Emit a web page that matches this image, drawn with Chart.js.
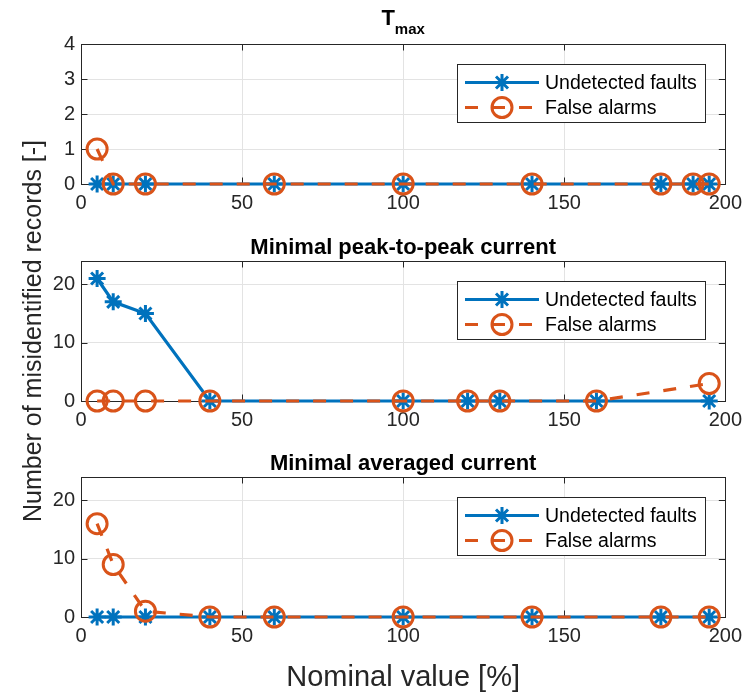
<!DOCTYPE html>
<html>
<head>
<meta charset="utf-8">
<script src="https://cdn.jsdelivr.net/npm/chart.js@4.4.1/dist/chart.umd.min.js"></script>
<style>
  html, body { margin: 0; padding: 0; background: #fff; }
  #wrap { position: relative; width: 749px; height: 698px; }
  #wrap canvas { position: absolute; left: 0; top: 0; }
</style>
</head>
<body>
<div id="wrap">
  <canvas id="tmax" width="749" height="698"></canvas>
  <canvas id="p2p" width="749" height="698"></canvas>
  <canvas id="avg" width="749" height="698"></canvas>
</div>
<script>
// T_max panel
const tmaxX = [5, 10, 20, 60, 100, 140, 180, 190, 195];
const tmaxUndetected = [0, 0, 0, 0, 0, 0, 0, 0, 0];
const tmaxFalse = [1, 0, 0, 0, 0, 0, 0, 0, 0];

// minimal peak-to-peak current panel
const p2pX = [5, 10, 20, 40, 100, 120, 130, 160, 195];
const p2pUndetected = [21, 17, 15, 0, 0, 0, 0, 0, 0];
const p2pFalse = [0, 0, 0, 0, 0, 0, 0, 0, 3];

// minimal averaged current panel
const avgX = [5, 10, 20, 40, 60, 100, 140, 180, 195];
const avgUndetected = [0, 0, 0, 0, 0, 0, 0, 0, 0];
const avgFalse = [16, 9, 1, 0, 0, 0, 0, 0, 0];

const xTicks = [0, 50, 100, 150, 200];
const yTicksTmax = [0, 1, 2, 3, 4];
const yTicksCurrent = [0, 10, 20];

const seriesNames = ["Undetected faults", "False alarms"];

const FONT = "'Liberation Sans', Arial, Helvetica, sans-serif";
const AXIS = "#262626";
const BLUE = "#0072BD";
const ORANGE = "#D95319";
const GRID = "#e3e3e3";

function pts(xs, ys) {
  return xs.map((x, i) => ({ x: x, y: ys[i] }));
}

// box around the plot area with inward ticks on all four sides
const frame = {
  id: "frame",
  beforeDatasetsDraw(chart) {
    const { ctx, chartArea: a, scales } = chart;
    const len = 6.5;
    ctx.save();
    ctx.strokeStyle = AXIS;
    ctx.lineWidth = 1;
    ctx.beginPath();
    scales.x.ticks.forEach(t => {
      const px = Math.round(scales.x.getPixelForValue(t.value)) + 0.5;
      ctx.moveTo(px, a.bottom); ctx.lineTo(px, a.bottom - len);
      ctx.moveTo(px, a.top); ctx.lineTo(px, a.top + len);
    });
    scales.y.ticks.forEach(t => {
      const py = Math.round(scales.y.getPixelForValue(t.value)) + 0.5;
      ctx.moveTo(a.left, py); ctx.lineTo(a.left + len, py);
      ctx.moveTo(a.right, py); ctx.lineTo(a.right - len, py);
    });
    ctx.stroke();
    ctx.strokeRect(Math.round(a.left) + 0.5, Math.round(a.top) + 0.5,
      Math.round(a.right - a.left), Math.round(a.bottom - a.top));
    ctx.restore();
  }
};

function drawMarker(ctx, ds, x, y) {
  const r = ds.pointRadius;
  ctx.save();
  ctx.setLineDash([]);
  ctx.strokeStyle = ds.borderColor;
  ctx.lineWidth = ds.pointBorderWidth;
  ctx.beginPath();
  if (ds.pointStyle === "circle") {
    ctx.arc(x, y, r, 0, Math.PI * 2);
  } else {
    for (let k = 0; k < 4; k++) {
      const ang = k * Math.PI / 4;
      ctx.moveTo(x - r * Math.sin(ang), y - r * Math.cos(ang));
      ctx.lineTo(x + r * Math.sin(ang), y + r * Math.cos(ang));
    }
  }
  ctx.stroke();
  ctx.restore();
}

// legend box in the upper right corner of each panel
const legendBox = {
  id: "legendBox",
  afterDatasetsDraw(chart) {
    const { ctx, chartArea: a } = chart;
    const sets = chart.data.datasets;
    ctx.save();
    ctx.font = "19.5px " + FONT;
    const textW = Math.max(...sets.map(d => ctx.measureText(d.label).width));
    const w = Math.round(88 + textW + 8);
    const h = 58;
    const x0 = Math.round(a.right - 20 - w);
    const y0 = Math.round(a.top + 20);
    ctx.fillStyle = "#fff";
    ctx.fillRect(x0, y0, w, h);
    ctx.strokeStyle = AXIS;
    ctx.lineWidth = 1;
    ctx.strokeRect(x0 + 0.5, y0 + 0.5, w, h);
    sets.forEach((d, i) => {
      const cy = y0 + 18.5 + i * 25;
      ctx.strokeStyle = d.borderColor;
      ctx.lineWidth = d.borderWidth;
      ctx.setLineDash(d.borderDash || []);
      ctx.beginPath();
      ctx.moveTo(x0 + 8, cy);
      ctx.lineTo(x0 + 82, cy);
      ctx.stroke();
      ctx.setLineDash([]);
      drawMarker(ctx, d, x0 + 45, cy);
      ctx.fillStyle = "#000";
      ctx.textAlign = "left";
      ctx.textBaseline = "middle";
      ctx.fillText(d.label, x0 + 88, cy + 1);
    });
    ctx.restore();
  }
};

// bold panel title, with an optional subscript part
function panelTitle(text, sub) {
  return {
    id: "panelTitle",
    afterDraw(chart) {
      const { ctx, chartArea: a } = chart;
      const big = "bold 22px " + FONT;
      const small = "bold 15px " + FONT;
      ctx.save();
      ctx.font = big;
      const w1 = ctx.measureText(text).width;
      ctx.font = small;
      const w2 = sub ? ctx.measureText(sub).width : 0;
      const x = (a.left + a.right) / 2 - (w1 + w2) / 2;
      ctx.fillStyle = "#000";
      ctx.textAlign = "left";
      ctx.textBaseline = "alphabetic";
      ctx.font = big;
      ctx.fillText(text, x, sub ? a.top - 19 : a.top - 7);
      if (sub) {
        ctx.font = small;
        ctx.fillText(sub, x + w1, a.top - 10);
      }
      ctx.restore();
    }
  };
}

function datasets(xs, undetected, falseAlarms) {
  return [
    {
      label: seriesNames[0],
      data: pts(xs, undetected),
      borderColor: BLUE,
      backgroundColor: "transparent",
      borderWidth: 3.2,
      pointStyle: "star",
      pointRadius: 8.5,
      pointBorderWidth: 3,
      pointBorderColor: BLUE,
      pointBackgroundColor: "transparent",
      order: 1,
      clip: false
    },
    {
      label: seriesNames[1],
      data: pts(xs, falseAlarms),
      borderColor: ORANGE,
      backgroundColor: "transparent",
      borderWidth: 3.2,
      borderDash: [13, 14],
      pointStyle: "circle",
      pointRadius: 10,
      pointBorderWidth: 3,
      pointBorderColor: ORANGE,
      pointBackgroundColor: "transparent",
      order: 0,
      clip: false
    }
  ];
}

function makePanel(id, opts) {
  const tickFont = { family: FONT, size: 20 };
  return new Chart(document.getElementById(id), {
    type: "line",
    data: { datasets: datasets(opts.x, opts.undetected, opts.falseAlarms) },
    options: {
      responsive: false,
      animation: false,
      events: [],
      layout: { padding: { top: opts.top, bottom: opts.bottom, left: 0, right: 20 } },
      plugins: { legend: { display: false }, tooltip: { enabled: false } },
      scales: {
        x: {
          type: "linear",
          min: 0,
          max: 200,
          border: { display: false },
          grid: { color: GRID, drawTicks: false },
          ticks: { font: tickFont, color: AXIS, padding: 7, maxRotation: 0 },
          title: opts.xTitle ? {
            display: true,
            text: opts.xTitle,
            color: AXIS,
            font: { family: FONT, size: 29 },
            padding: { top: 0, bottom: 3 }
          } : { display: false },
          afterBuildTicks: s => { s.ticks = xTicks.map(v => ({ value: v })); },
          afterFit: s => { s.height = opts.xHeight; }
        },
        y: {
          min: 0,
          max: opts.yMax,
          border: { display: false },
          grid: { color: GRID, drawTicks: false },
          ticks: { font: tickFont, color: AXIS, padding: 6 },
          title: opts.yTitle ? {
            display: true,
            text: opts.yTitle,
            color: AXIS,
            font: { family: FONT, size: 25 },
            padding: { top: 19, bottom: 0 }
          } : { display: false },
          afterBuildTicks: s => { s.ticks = opts.yTicks.map(v => ({ value: v })); },
          afterFit: s => { s.width = 81; }
        }
      }
    },
    plugins: [frame, legendBox, panelTitle(opts.title, opts.sub)]
  });
}

makePanel("tmax", {
  x: tmaxX, undetected: tmaxUndetected, falseAlarms: tmaxFalse,
  yMax: 4, yTicks: yTicksTmax, title: "T", sub: "max",
  top: 44, bottom: 484, xHeight: 30
});

makePanel("p2p", {
  x: p2pX, undetected: p2pUndetected, falseAlarms: p2pFalse,
  yMax: 24, yTicks: yTicksCurrent, title: "Minimal peak-to-peak current",
  yTitle: "Number of misidentified records [-]",
  top: 261, bottom: 267, xHeight: 30
});

makePanel("avg", {
  x: avgX, undetected: avgUndetected, falseAlarms: avgFalse,
  yMax: 24, yTicks: yTicksCurrent, title: "Minimal averaged current",
  xTitle: "Nominal value [%]",
  top: 477, bottom: 0, xHeight: 81
});
</script>
</body>
</html>
